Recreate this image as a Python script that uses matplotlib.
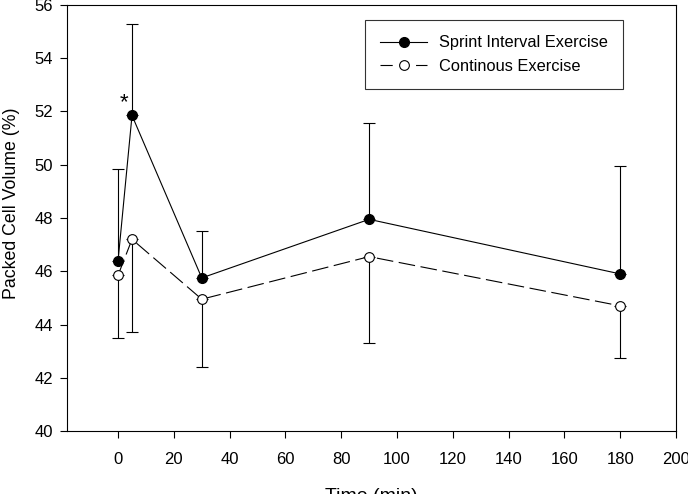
import matplotlib
matplotlib.use("Agg")
import matplotlib.pyplot as plt
import numpy as np

plt.rcParams["font.family"] = ["Liberation Sans", "DejaVu Sans"]

# ---- данные ----
time_min = [0, 5, 30, 90, 180]
sprint_pcv = [46.4, 51.85, 45.75, 47.95, 45.9]
sprint_err_up = [3.45, 3.45, 1.75, 3.6, 4.05]
cont_pcv = [45.85, 47.2, 44.95, 46.55, 44.7]
cont_err_down = [2.35, 3.5, 2.55, 3.25, 1.95]
x_ticks = [0, 20, 40, 60, 80, 100, 120, 140, 160, 180, 200]
y_ticks = [40, 42, 44, 46, 48, 50, 52, 54, 56]

fig = plt.figure(figsize=(6.88, 4.94), dpi=100)
ax = fig.add_axes([0.0974, 0.1275, 0.8852, 0.8624])

zeros = np.zeros(len(time_min))
ax.errorbar(time_min, sprint_pcv, yerr=[zeros, sprint_err_up], fmt="none",
            ecolor="black", elinewidth=0.8, capsize=4.5, capthick=0.8, zorder=2)
ax.errorbar(time_min, cont_pcv, yerr=[cont_err_down, zeros], fmt="none",
            ecolor="black", elinewidth=0.8, capsize=4.5, capthick=0.8, zorder=2)

ax.plot(time_min, sprint_pcv, "-", color="black", lw=0.8, marker="o",
        ms=7, mfc="black", mec="black", label="Sprint Interval Exercise", zorder=3)
ax.plot(time_min, cont_pcv, color="black", lw=0.8, ls=(0, (15, 5)), marker="o",
        ms=7, mfc="white", mec="black", mew=0.8, label="Continous Exercise", zorder=3)

ax.text(2.3, 51.95, "*", fontsize=16, ha="center", va="bottom")

ax.set_xlim(-18.3, 200)
ax.set_ylim(40, 56)
ax.set_xticks(x_ticks)
ax.set_yticks(y_ticks)
ax.tick_params(direction="out", length=5, width=0.8, labelsize=12, top=False, right=False)
ax.tick_params(axis="x", pad=10)
ax.tick_params(axis="y", pad=5)
for s in ax.spines.values():
    s.set_linewidth(0.8)

ax.set_xlabel("Time (min)", fontsize=14, labelpad=15)
ax.set_ylabel("Packed Cell Volume (%)", fontsize=12.8)
ax.yaxis.set_label_coords(-0.077, 0.535)

leg = ax.legend(loc="upper right", bbox_to_anchor=(0.913, 0.965), borderaxespad=0,
                fontsize=11.8, handlelength=2.85, handletextpad=0.7, frameon=True,
                fancybox=False, borderpad=0.95, labelspacing=0.5)
leg.get_frame().set_edgecolor("black")
leg.get_frame().set_linewidth(0.8)
# в легенде пунктир: штрих — кружок — штрих
leg.get_lines()[1].set_linestyle((0, (11, 21)))

fig.savefig("out.png", dpi=100)
